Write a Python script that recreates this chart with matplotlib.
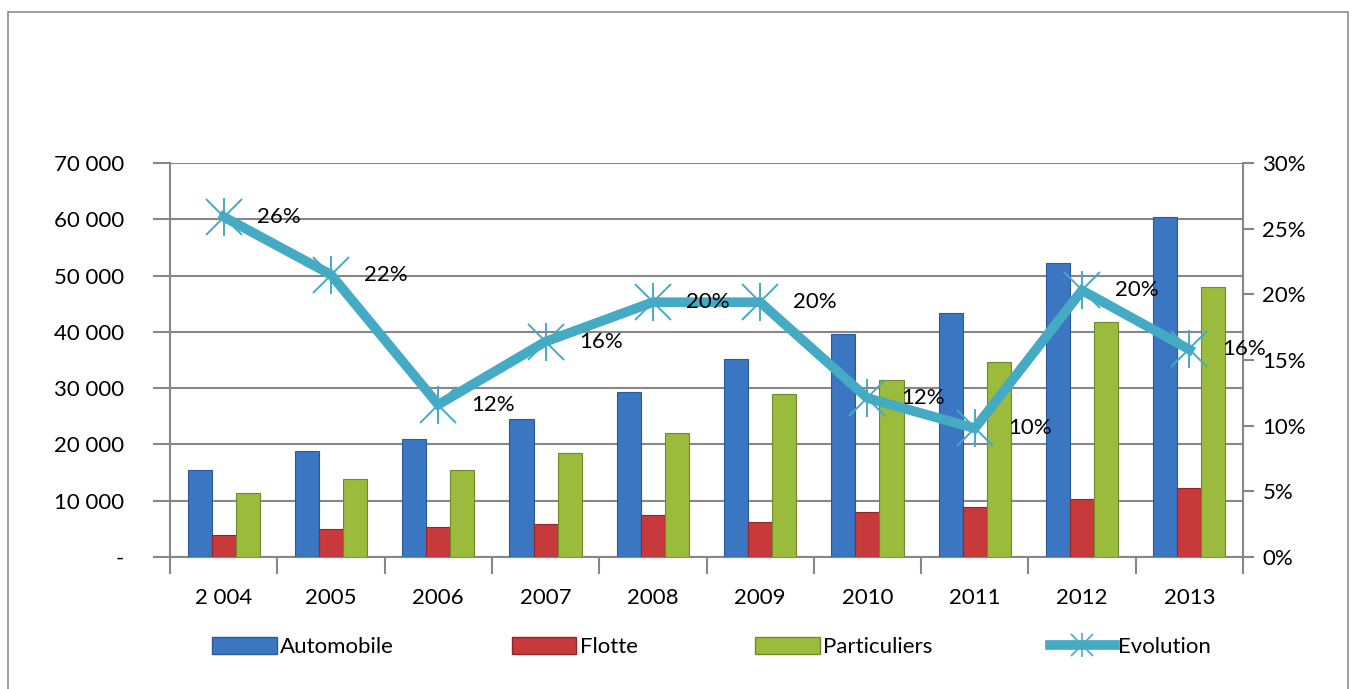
import matplotlib.pyplot as plt
from matplotlib.patches import Rectangle
from matplotlib.lines import Line2D
from matplotlib.legend_handler import HandlerTuple
from matplotlib.ticker import FuncFormatter
import numpy as np

plt.rcParams['font.family'] = ['Lato', 'DejaVu Sans']

years = ['2 004', '2005', '2006', '2007', '2008', '2009', '2010', '2011', '2012', '2013']
automobile = [15400, 18800, 20900, 24500, 29300, 35100, 39600, 43400, 52300, 60400]
flotte = [3850, 5000, 5300, 5900, 7400, 6200, 8000, 8800, 10250, 12300]
particuliers = [11400, 13800, 15500, 18400, 22000, 28900, 31500, 34600, 41700, 48000]
evolution = [0.259, 0.215, 0.116, 0.164, 0.194, 0.194, 0.121, 0.098, 0.203, 0.158]
evolution_labels = ['26%', '22%', '12%', '16%', '20%', '20%', '12%', '10%', '20%', '16%']

grey = '#878787'
c_auto = '#3B76C2'
c_flotte = '#C8393C'
c_part = '#9BBB3C'
c_evo = '#45AAC4'
fs = 16

fig = plt.figure(figsize=(13.58, 6.89), dpi=100)
# outer frame
fig.patches.append(Rectangle((8 / 1358, -0.02), 1340 / 1358, 1 - 12 / 689 + 0.02,
                             transform=fig.transFigure, fill=False, edgecolor='#8c8c8c', linewidth=1.2))

ax = fig.add_axes([170 / 1358, 1 - 557 / 689, 1073 / 1358, 394 / 689])
x = np.arange(len(years))
w = 0.224
ax.bar(x - w, automobile, w, color=c_auto, edgecolor='#2c5a96', linewidth=0.8, zorder=3)
ax.bar(x, flotte, w, color=c_flotte, edgecolor='#8f2628', linewidth=0.8, zorder=3)
ax.bar(x + w, particuliers, w, color=c_part, edgecolor='#6f8a2a', linewidth=0.8, zorder=3)

ax.set_xlim(-0.5, len(years) - 0.5)
ax.set_ylim(0, 70000)
ax.set_yticks(np.arange(0, 70001, 10000))
ax.yaxis.set_major_formatter(FuncFormatter(lambda v, p: '-' if v == 0 else '{:,.0f}'.format(v).replace(',', ' ')))
ax.grid(axis='y', color=grey, linewidth=1.5, zorder=0)
ax.set_xticks(x)
ax.set_xticklabels(years)
ax.set_xticks(np.arange(-0.5, len(years)), minor=True)
ax.tick_params(axis='x', which='major', length=0, pad=22, labelsize=fs)
ax.tick_params(axis='x', which='minor', length=12, width=1.5, color=grey)
ax.tick_params(axis='y', length=12, width=1.5, color=grey, pad=21, labelsize=fs)
for s in ['top', 'right']:
    ax.spines[s].set_visible(False)
for s in ['left', 'bottom']:
    ax.spines[s].set_color(grey)
    ax.spines[s].set_linewidth(1.5)

ax2 = ax.twinx()
ax2.set_ylim(0, 0.30)
ax2.set_yticks(np.arange(0, 0.301, 0.05))
ax2.yaxis.set_major_formatter(FuncFormatter(lambda v, p: '{:.0f}%'.format(v * 100)))
ax2.tick_params(axis='y', length=8, width=1.5, color=grey, pad=6, labelsize=fs)
for s in ['top', 'left', 'bottom']:
    ax2.spines[s].set_visible(False)
ax2.spines['right'].set_color(grey)
ax2.spines['right'].set_linewidth(1.5)

ax2.plot(x, evolution, color=c_evo, linewidth=7, solid_joinstyle='miter', zorder=4)
# star marker: an x with a vertical bar
ax2.plot(x, evolution, linestyle='none', marker='x', markersize=26,
         markeredgecolor=c_evo, markeredgewidth=1.4, zorder=5)
ax2.plot(x, evolution, linestyle='none', marker='|', markersize=27,
         markeredgecolor=c_evo, markeredgewidth=1.4, zorder=5)
for xi, yi, lab in zip(x, evolution, evolution_labels):
    ax2.annotate(lab, (xi, yi), xytext=(24, 0), textcoords='offset points',
                 ha='left', va='center', fontsize=fs, zorder=6)

evo_line = Line2D([], [], color=c_evo, linewidth=7)
evo_x = Line2D([], [], linestyle='none', marker='x', markersize=16, markeredgecolor=c_evo, markeredgewidth=1.2)
evo_v = Line2D([], [], linestyle='none', marker='|', markersize=17, markeredgecolor=c_evo, markeredgewidth=1.2)
handles = [Rectangle((0, 0), 1, 1, facecolor=c_auto, edgecolor='#2c5a96'),
           Rectangle((0, 0), 1, 1, facecolor=c_flotte, edgecolor='#8f2628'),
           Rectangle((0, 0), 1, 1, facecolor=c_part, edgecolor='#6f8a2a'),
           (evo_line, evo_x, evo_v)]
fig.legend(handles, ['Automobile', 'Flotte', 'Particuliers', 'Evolution'],
           loc='center', bbox_to_anchor=(0.524, 1 - 647 / 689), ncol=4, frameon=False,
           fontsize=fs, handlelength=2.9, handleheight=0.8, handletextpad=0.15,
           columnspacing=5.3, handler_map={tuple: HandlerTuple(ndivide=1)})

fig.savefig('out.png', dpi=100)
